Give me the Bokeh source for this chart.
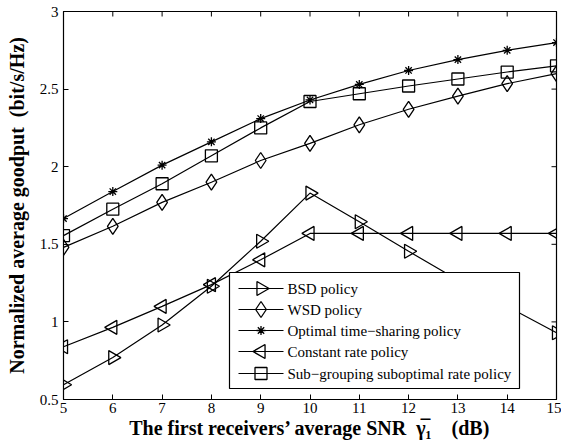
import math
from bokeh.plotting import figure
from bokeh.models import FixedTicker
from bokeh.core.properties import value
from bokeh.embed import file_html
from bokeh.resources import INLINE

snr = [5, 6, 7, 8, 9, 10, 11, 12, 13, 14, 15]
bsd = [0.595, 0.77, 0.98, 1.23, 1.52, 1.83, 1.645, 1.455, 1.27, 1.10, 0.93]
wsd = [1.48, 1.616, 1.77, 1.90, 2.04, 2.15, 2.27, 2.37, 2.455, 2.535, 2.60]
optimal = [1.666, 1.84, 2.01, 2.16, 2.31, 2.43, 2.53, 2.62, 2.69, 2.75, 2.80]
constant = [0.84, 0.965, 1.10, 1.24, 1.40, 1.57, 1.57, 1.57, 1.57, 1.57, 1.57]
subgroup = [1.556, 1.726, 1.89, 2.07, 2.25, 2.42, 2.47, 2.52, 2.565, 2.61, 2.65]

labels = ["BSD policy", "WSD policy", "Optimal time\u2212sharing policy",
          "Constant rate policy", "Sub\u2212grouping suboptimal rate policy"]

x_ticks = [5, 6, 7, 8, 9, 10, 11, 12, 13, 14, 15]
y_ticks = [0.5, 1, 1.5, 2, 2.5, 3]
y_tick_labels = ["0.5", "1", "1.5", "2", "2.5", "3"]

FONT = "Liberation Serif"
X0, X1, Y0, Y1 = 5, 15, 0.5, 3
W, H = 561, 444
ML, MR, MT, MB = 63, 5, 11, 45
FW, FH = W - ML - MR, H - MT - MB

p = figure(width=W, height=H, x_range=(X0, X1), y_range=(Y0, Y1),
           output_backend="svg", toolbar_location=None,
           min_border_left=ML, min_border_right=MR, min_border_top=MT, min_border_bottom=MB)
p.background_fill_color = "white"
p.border_fill_color = "white"
p.outline_line_color = "black"
p.outline_line_width = 1.2
p.xgrid.visible = False
p.ygrid.visible = False

styles = [
    ("triangle", -math.pi / 2, 14),
    ("diamond", 0, 16),
    ("asterisk", 0, 9),
    ("triangle", math.pi / 2, 14),
    ("square", 0, 12),
]
all_series = [bsd, wsd, optimal, constant, subgroup]

for ys, (marker, ang, sz) in zip(all_series, styles):
    p.line(snr, ys, line_color="black", line_width=1.2)
    p.scatter(snr, ys, marker=marker, angle=ang, size=sz, line_color="black",
              line_width=1.3, fill_alpha=0)

# mirrored inward ticks on top and right edges
p.ray(x=x_ticks, y=[Y1] * len(x_ticks), length=5, length_units="screen",
      angle=-math.pi / 2, line_color="black", line_width=1)
p.ray(x=[X1] * len(y_ticks), y=y_ticks, length=5, length_units="screen",
      angle=math.pi, line_color="black", line_width=1)

for ax in (p.xaxis[0], p.yaxis[0]):
    ax.major_tick_in = 5
    ax.major_tick_out = 0
    ax.minor_tick_in = 0
    ax.minor_tick_out = 0
    ax.axis_line_color = "black"
    ax.major_label_text_font = FONT
    ax.major_label_text_font_size = "15px"
    ax.major_label_text_color = "black"
    ax.axis_label_text_font = FONT
    ax.axis_label_text_font_size = "20px"
    ax.axis_label_text_font_style = "bold"
    ax.axis_label_text_color = "black"

p.xaxis.ticker = FixedTicker(ticks=x_ticks)
p.yaxis.ticker = FixedTicker(ticks=y_ticks)
p.yaxis.major_label_overrides = {t: s for t, s in zip(y_ticks, y_tick_labels)}
p.xaxis.major_label_standoff = 3
p.yaxis.major_label_standoff = 5
p.xaxis.axis_label_standoff = 1
p.yaxis.axis_label_standoff = 9
p.xaxis.axis_label = "The first receivers\u2019 average SNR\u00a0\u00a0\u03b3\u0305\u2081\u00a0\u00a0\u00a0\u00a0(dB)"
p.yaxis.axis_label = "Normalized average goodput\u00a0\u00a0(bit/s/Hz)"


# manual legend (so the triangles keep their direction), placed by pixel position
def dx(px):
    return X0 + (px - ML) / FW * (X1 - X0)


def dy(py):
    return Y0 + (H - MB - py) / FH * (Y1 - Y0)


box_l, box_r, box_t, box_b = 229, 519, 272, 388
p.quad(left=[dx(box_l)], right=[dx(box_r)], top=[dy(box_t)], bottom=[dy(box_b)],
       fill_color="white", line_color="black", line_width=1.2)
row_y = [288, 309, 330, 351, 373]
gl, gr, tx = 238, 283, 287
for lab, (marker, ang, sz), ry in zip(labels, styles, row_y):
    yy = dy(ry)
    p.line([dx(gl), dx(gr)], [yy, yy], line_color="black", line_width=1.2)
    p.scatter([dx((gl + gr) / 2)], [yy], marker=marker, angle=ang, size=sz,
              line_color="black", line_width=1.3, fill_alpha=0)
    p.text([dx(tx)], [yy], text=[lab], text_font=value("Liberation Serif"),
           text_font_style="normal", text_font_size="15px",
           text_baseline="middle", text_align="left", text_color="black")

open("out.html", "w").write(file_html(p, INLINE))
